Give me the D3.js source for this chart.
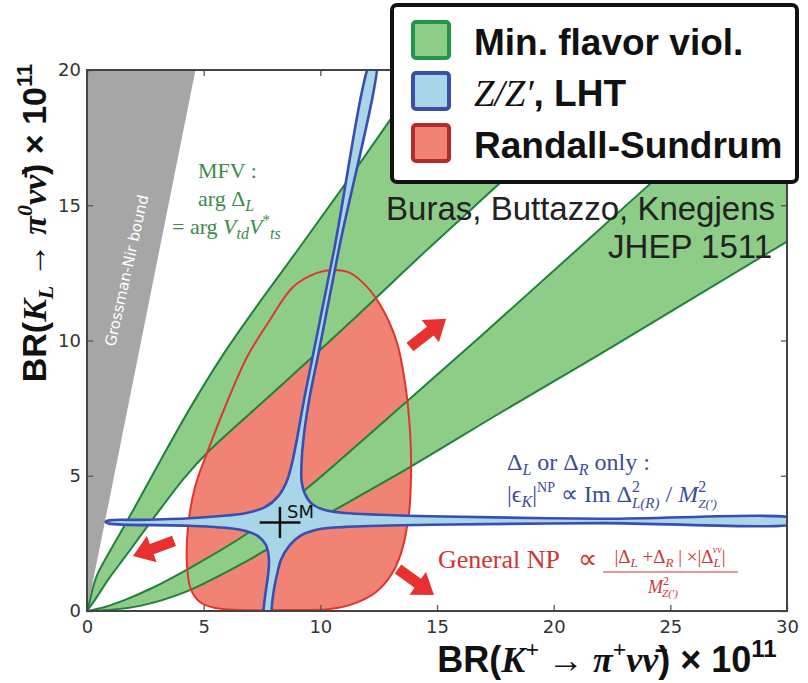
<!DOCTYPE html>
<html>
<head>
<meta charset="utf-8">
<script src="https://cdn.jsdelivr.net/npm/d3@7"></script>
<style>
  body { margin: 0; background: #fff; }
  svg { display: block; }
</style>
</head>
<body>
<svg id="chart" width="808" height="683"></svg>
<script>
// x = BR(K+ -> pi+ nu nubar) x 1e11, y = BR(KL -> pi0 nu nubar) x 1e11
const xTicks = [0, 5, 10, 15, 20, 25, 30];
const yTicks = [0, 5, 10, 15, 20];

const gnBound = [[0, 0], [4.65, 20], [0, 20]];

// MFV bands
const mfvSteepHi = [[0, 0], [0.13, 0.41], [0.26, 0.89], [0.47, 1.41], [0.77, 1.89], [1.33, 2.74],
  [2.06, 3.85], [3.21, 5.66], [4.5, 7.62], [5.91, 9.58], [7.41, 11.43], [9.0, 13.31], [11.7, 16.56],
  [14.44, 19.96], [15.3, 21.0]];
const mfvSteepLo = [[0, 0], [0.34, 0.41], [0.9, 1.15], [1.63, 2.0], [2.79, 3.36], [4.2, 4.95],
  [5.27, 5.95], [7.63, 7.8], [11.06, 10.5], [14.57, 13.35], [17.7, 15.82], [22.97, 20.0], [24.2, 21.0]];
const mfvFlatHi = [[0, 0], [0.77, 0.15], [1.63, 0.41], [2.79, 0.85], [4.63, 1.7], [6.77, 2.81],
  [9.34, 4.47], [12.56, 6.88], [16.84, 10.13], [24.13, 15.79], [29.57, 20.0], [31, 21.1]];
const mfvFlatLo = [[0, 0], [0.99, 0.04], [2.27, 0.19], [4.2, 0.7], [6.77, 1.81], [9.34, 3.11],
  [13.84, 5.32], [17.7, 7.32], [21.99, 9.5], [29.96, 13.64], [31, 14.18]];

// Randall-Sundrum region outline
const rsOutline = [[10.54, 12.61], [11.27, 12.5], [12.0, 11.98], [12.69, 11.13], [13.29, 9.91], [13.63, 8.43],
  [13.84, 6.69], [13.89, 5.21], [13.8, 3.62], [13.46, 2.14], [13.03, 1.33], [12.39, 0.7], [11.53, 0.3],
  [10.41, 0.07], [8.7, 0.04], [6.56, 0.04], [5.49, 0.11], [4.84, 0.33], [4.46, 0.78], [4.29, 1.63],
  [4.33, 3.11], [4.63, 4.58], [5.19, 5.95], [6.04, 7.8], [6.86, 9.39], [7.84, 10.76], [8.83, 11.98], [9.86, 12.5]];

// Z/Z', LHT region outline
const lhtOutline = [[12.24, 20.5], [10.59, 13.35], [9.73, 9.65], [9.3, 7.8], [8.99, 6.32], [8.77, 5.4],
  [8.55, 4.77], [8.2, 4.25], [7.63, 3.84], [6.77, 3.61], [5.61, 3.5], [4.41, 3.43], [2.27, 3.37],
  [0.95, 3.35], [0.8, 3.29], [0.95, 3.23], [4.41, 3.15], [6.56, 3.0], [7.33, 2.77], [7.67, 2.44],
  [7.8, 1.89], [7.76, 1.33], [7.67, 0.78], [7.56, 0], [7.54, -0.5], [7.93, -0.5], [7.91, 0],
  [8.01, 0.78], [8.14, 1.33], [8.31, 1.89], [8.66, 2.4], [9.21, 2.81], [9.99, 3.03], [11.06, 3.11],
  [12.56, 3.15], [14.7, 3.19], [21.99, 3.25], [30.5, 3.26], [30.5, 3.39], [21.99, 3.41], [14.7, 3.5],
  [12.56, 3.56], [11.06, 3.62], [10.2, 3.73], [9.64, 3.96], [9.34, 4.33], [9.2, 4.77], [9.19, 5.4],
  [9.27, 6.32], [9.52, 7.8], [9.95, 9.65], [10.79, 13.35], [12.42, 20.5]];

const smPoint = [8.27, 3.27];
const smRangeX = [7.4, 9.15];
const smRangeY = [2.7, 3.85];

// arrows: [tailX, tailY, headX, headY]
const rsArrows = [[13.84, 9.76, 15.39, 10.8], [3.73, 2.59, 1.97, 2.03], [13.33, 1.55, 14.87, 0.59]];

const legendLabels = ['Min. flavor viol.', 'Z/Z′', 'Randall-Sundrum'];

const svg = d3.select('#chart');
const x = d3.scaleLinear().domain([0, 30]).range([87, 787]);
const y = d3.scaleLinear().domain([0, 20]).range([611, 70]);
const pt = ([a, b]) => [x(a), y(b)];

const open = d3.line().x(d => x(d[0])).y(d => y(d[1])).curve(d3.curveCatmullRom.alpha(0.5));
const closed = d3.line().x(d => x(d[0])).y(d => y(d[1])).curve(d3.curveCatmullRomClosed.alpha(0.5));
const band = (hi, lo) => open(hi) + open(lo.slice().reverse()).replace(/^M/, 'L') + 'Z';

const rich = (el, parts) => parts.forEach(([t, o = {}]) => {
  const s = el.append('tspan').text(t);
  Object.entries(o).forEach(([k, v]) => s.attr(k, v));
});

svg.append('defs').append('clipPath').attr('id', 'plotClip')
  .append('rect').attr('x', 87).attr('y', 70).attr('width', 700).attr('height', 541);

const plot = svg.append('g').attr('clip-path', 'url(#plotClip)');

plot.append('path')
  .attr('d', d3.line()(gnBound.map(pt)) + 'Z')
  .attr('fill', '#a6a6a6');

plot.append('path')
  .attr('d', closed(rsOutline))
  .attr('fill', '#f08374');

[[mfvSteepHi, mfvSteepLo], [mfvFlatHi, mfvFlatLo]].forEach(([hi, lo]) => {
  plot.append('path').attr('d', band(hi, lo)).attr('fill', '#8ecd87');
});

[mfvSteepHi, mfvSteepLo, mfvFlatHi, mfvFlatLo].forEach(c => {
  plot.append('path').attr('d', open(c))
    .attr('fill', 'none').attr('stroke', '#21803d').attr('stroke-width', 2);
});

plot.append('path')
  .attr('d', closed(rsOutline))
  .attr('fill', 'none').attr('stroke', '#e0352d').attr('stroke-width', 2);

plot.append('path')
  .attr('d', closed(lhtOutline))
  .attr('fill', '#a8d6e8').attr('stroke', '#3a4db0').attr('stroke-width', 2.6)
  .attr('stroke-linejoin', 'round');

// SM point
const sm = svg.append('g').attr('stroke', '#111').attr('stroke-width', 2.5);
sm.append('line').attr('x1', x(smRangeX[0])).attr('x2', x(smRangeX[1]))
  .attr('y1', y(smPoint[1])).attr('y2', y(smPoint[1]));
sm.append('line').attr('x1', x(smPoint[0])).attr('x2', x(smPoint[0]))
  .attr('y1', y(smRangeY[0])).attr('y2', y(smRangeY[1]));
svg.append('text').attr('x', x(smPoint[0]) + 7).attr('y', y(smPoint[1]) - 5)
  .attr('font-family', 'DejaVu Sans').attr('font-size', 18).attr('fill', '#111').text('SM');

// axes, ticks inward on all sides
const styleAxis = g => {
  g.select('.domain').remove();
  g.selectAll('.tick line').attr('stroke', '#555').attr('stroke-width', 1.3);
  g.selectAll('.tick text').attr('font-family', 'DejaVu Sans').attr('font-size', 18).attr('fill', '#333');
};
svg.append('g').attr('transform', 'translate(0,611)')
  .call(d3.axisBottom(x).tickValues(xTicks).tickSizeInner(-6).tickSizeOuter(0).tickPadding(9)).call(styleAxis);
svg.append('g').attr('transform', 'translate(0,70)')
  .call(d3.axisTop(x).tickValues(xTicks).tickSizeInner(-6).tickSizeOuter(0).tickFormat('')).call(styleAxis);
svg.append('g').attr('transform', 'translate(87,0)')
  .call(d3.axisLeft(y).tickValues(yTicks).tickSizeInner(-6).tickSizeOuter(0).tickPadding(6)).call(styleAxis);
svg.append('g').attr('transform', 'translate(787,0)')
  .call(d3.axisRight(y).tickValues(yTicks).tickSizeInner(-6).tickSizeOuter(0).tickFormat('')).call(styleAxis);

svg.append('rect').attr('x', 87).attr('y', 70).attr('width', 700).attr('height', 541)
  .attr('fill', 'none').attr('stroke', '#444').attr('stroke-width', 2);

// Grossman-Nir label
svg.append('text')
  .attr('transform', `translate(${x(1.2)},${y(9.76)}) rotate(-77.5)`)
  .attr('font-family', 'DejaVu Sans').attr('font-size', 15).attr('fill', '#fff')
  .text('Grossman-Nir bound');

// arrows
svg.selectAll('.arrow').data(rsArrows).join('path')
  .attr('class', 'arrow')
  .attr('fill', '#e8312e')
  .attr('transform', d => {
    const [x0, y0, x1, y1] = [x(d[0]), y(d[1]), x(d[2]), y(d[3])];
    return `translate(${x0},${y0}) rotate(${Math.atan2(y1 - y0, x1 - x0) * 180 / Math.PI})`;
  })
  .attr('d', d => {
    const L = Math.hypot(x(d[2]) - x(d[0]), y(d[3]) - y(d[1]));
    const h = 20;
    return `M0,-5.5L${L - h},-5.5L${L - h},-14L${L},0L${L - h},14L${L - h},5.5L0,5.5Z`;
  });

// annotations
const serif = 'Liberation Serif';
const it = { 'font-style': 'italic' };

const mfv = svg.append('g').attr('font-family', serif).attr('font-size', 22).attr('fill', '#3b8a4c');
mfv.append('text').attr('x', 198).attr('y', 178).text('MFV :');
rich(mfv.append('text').attr('x', 198).attr('y', 206),
  [['arg Δ'], ['L', { ...it, dy: 5, 'font-size': 16 }]]);
rich(mfv.append('text').attr('x', 172).attr('y', 234),
  [['= arg '], ['V', it], ['td', { ...it, dy: 5, 'font-size': 16 }], ['V', { ...it, dy: -5 }],
   ['*', { dy: -9, 'font-size': 15 }], ['ts', { ...it, dy: 14, 'font-size': 16 }]]);

const np = svg.append('g').attr('font-family', serif).attr('font-size', 24).attr('fill', '#3b4a9e');
rich(np.append('text').attr('x', 507).attr('y', 470),
  [['Δ'], ['L', { ...it, dy: 5, 'font-size': 16 }], [' or Δ', { dy: -5 }], ['R', { ...it, dy: 5, 'font-size': 16 }],
   [' only :', { dy: -5 }]]);
rich(np.append('text').attr('x', 507).attr('y', 502),
  [['|ϵ'], ['K', { ...it, dy: 5, 'font-size': 16 }], ['|', { dy: -5 }], ['NP', { dy: -10, 'font-size': 14 }],
   [' ∝ Im Δ', { dy: 10 }], ['2', { dy: -10, 'font-size': 16 }], ['L(R)', { ...it, dx: -8, dy: 16, 'font-size': 15 }],
   [' / ', { dy: -6 }], ['M', it], ['2', { dy: -10, 'font-size': 16 }], ['Z(′)', { ...it, dx: -8, dy: 16, 'font-size': 13 }]]);

const gen = svg.append('g').attr('font-family', serif).attr('fill', '#cf3434');
gen.append('text').attr('x', 438).attr('y', 568).attr('font-size', 26).text('General NP');
gen.append('text').attr('x', 578).attr('y', 568).attr('font-size', 27).text('∝');
rich(gen.append('text').attr('x', 670).attr('y', 563).attr('font-size', 19).attr('text-anchor', 'middle'),
  [['|Δ'], ['L', { ...it, dy: 4, 'font-size': 13 }], [' +Δ', { dy: -4 }], ['R', { ...it, dy: 4, 'font-size': 13 }],
   [' | ×|Δ', { dy: -4 }], ['L', { ...it, dy: 4, 'font-size': 13 }], ['νν', { ...it, dx: -8, dy: -14, 'font-size': 10 }],
   ['|', { dy: 10 }]]);
gen.append('line').attr('x1', 603).attr('x2', 738).attr('y1', 572).attr('y2', 572)
  .attr('stroke', '#cf3434').attr('stroke-width', 1.2);
rich(gen.append('text').attr('x', 663).attr('y', 593).attr('font-size', 18).attr('text-anchor', 'middle'),
  [['M', it], ['2', { dy: -8, 'font-size': 12 }], ['Z(′)', { ...it, dx: -7, dy: 12, 'font-size': 11 }]]);

const ref = svg.append('g').attr('font-family', 'Liberation Sans').attr('font-size', 33)
  .attr('fill', '#222').attr('text-anchor', 'end');
ref.append('text').attr('x', 775).attr('y', 220).text('Buras, Buttazzo, Knegjens');
ref.append('text').attr('x', 772).attr('y', 258).text('JHEP 1511');

// axis titles
const bi = { 'font-family': serif, 'font-style': 'italic' };
rich(svg.append('text').attr('x', 607).attr('y', 672).attr('text-anchor', 'middle')
  .attr('font-family', 'Liberation Sans').attr('font-weight', 'bold').attr('font-size', 36).attr('fill', '#111'),
  [['BR('], ['K', bi], ['+', { ...bi, dy: -15, 'font-size': 24 }], [' → ', { 'font-family': serif, 'font-weight': 'normal', dy: 15 }],
   ['π', bi], ['+', { ...bi, dy: -15, 'font-size': 24 }], ['νν\u0304', { ...bi, dy: 15 }], [')'], [' × 10'],
   ['11', { dy: -15, 'font-size': 24 }]]);

rich(svg.append('text').attr('transform', 'translate(46,223) rotate(-90)').attr('text-anchor', 'middle')
  .attr('font-family', 'Liberation Sans').attr('font-weight', 'bold').attr('font-size', 34).attr('fill', '#111'),
  [['BR('], ['K', bi], ['L', { ...bi, dy: 7, 'font-size': 22 }], [' → ', { 'font-family': serif, 'font-weight': 'normal', dy: -7 }],
   ['π', bi], ['0', { ...bi, dy: -14, 'font-size': 22 }], ['νν\u0304', { ...bi, dy: 14 }], [')'], [' × 10'],
   ['11', { dy: -14, 'font-size': 22 }]]);

// legend
const legend = svg.append('g');
legend.append('rect').attr('x', 392).attr('y', 5).attr('width', 405).attr('height', 177).attr('rx', 5)
  .attr('fill', '#fff').attr('stroke', '#111').attr('stroke-width', 4);
const patchFill = ['#8ecd87', '#a8d6e8', '#f08374'];
const patchStroke = ['#1f9648', '#3a4db0', '#b52a2a'];
const rowY = [22, 73, 125];
legendLabels.forEach((lab, i) => {
  legend.append('rect').attr('x', 413).attr('y', rowY[i]).attr('width', 36).attr('height', 36).attr('rx', 3)
    .attr('fill', patchFill[i]).attr('stroke', patchStroke[i]).attr('stroke-width', 4);
  const t = legend.append('text').attr('x', 474).attr('y', rowY[i] + 33)
    .attr('font-family', 'Liberation Sans').attr('font-weight', 'bold').attr('font-size', 37).attr('fill', '#111');
  if (i === 1) rich(t, [[lab, { 'font-family': serif, 'font-style': 'italic', 'font-weight': 'normal' }], [', LHT']]);
  else t.text(lab);
});
</script>
</body>
</html>
